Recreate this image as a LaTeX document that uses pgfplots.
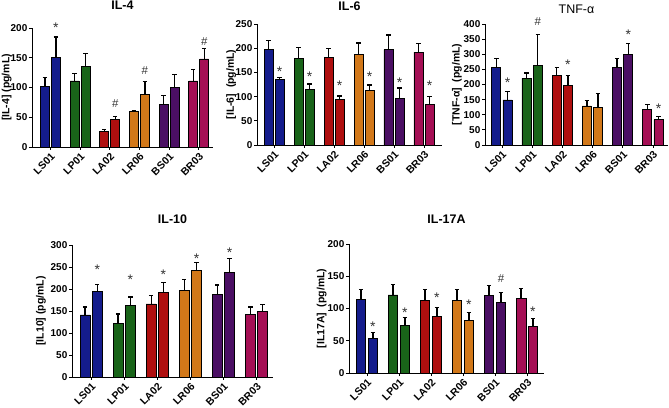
\documentclass[border=0pt]{standalone}
\usepackage{pgfplots}
\pgfplotsset{compat=1.18}
\usepackage{fontspec}
\setmainfont{Liberation Sans}
\definecolor{cLS}{RGB}{20,28,140}
\definecolor{cLP}{RGB}{25,100,25}
\definecolor{cLA}{RGB}{175,15,15}
\definecolor{cLR}{RGB}{210,120,25}
\definecolor{cBS}{RGB}{75,15,100}
\definecolor{cBR}{RGB}{165,15,85}
\newcommand{\hs}{{\fontsize{11.5}{12}\selectfont\#}}
\pgfplotsset{
  panel/.style={
    scale only axis, axis lines*=left, enlargelimits=false, clip=false,
    ymin=0, xtick={0,1,2,3,4,5},
    xticklabels={LS01,LP01,LA02,LR06,BS01,BR03},
    tick align=outside, major tick length=3bp,
    xtick pos=bottom, ytick pos=left,
    tick style={black, line width=0.8pt},
    axis line style={black, line width=0.9pt},
    /pgf/number format/assume math mode=true,
    y tick label style={font=\bfseries\fontsize{10}{11}\selectfont, inner sep=1.5pt},
    x tick label style={font=\bfseries\fontsize{10.5}{11}\selectfont, rotate=45, anchor=north east, inner sep=1.5pt},
    ylabel style={font=\bfseries\fontsize{10.5}{11}\selectfont, rotate=0, anchor=center},
    title style={font=\bfseries\fontsize{12.5}{13}\selectfont, anchor=center},
  },
  grp/.style={ybar, bar width=0.3, bar shift=0pt, draw=black, line width=0.8pt, fill=#1,
    error bars/.cd, y dir=plus, y explicit,
    error bar style={line width=1.3pt, black},
    error mark options={rotate=90, mark size=2.2pt, line width=1.3pt, black}},
  sig/.style={only marks, mark=none, nodes near coords, point meta=explicit symbolic,
    nodes near coords align={center},
    every node near coord/.append style={font=\fontsize{14}{14}\selectfont, text=black!80, inner sep=0pt}},
}
\begin{document}
\begin{tikzpicture}
\path[use as bounding box] (0,0) rectangle (669bp,408bp);
% ---------------- IL-4
\begin{axis}[panel, at={(32bp,261bp)}, anchor=south west, width=181bp, height=119bp,
  xmin=-0.62, xmax=5.48, ymax=200, ytick={0,50,100,150,200},
  title={IL-4}, title style={at={(axis description cs:0.5,1.143)}},
  ylabel={[IL-4] (pg/mL)}, ylabel style={at={(axis description cs:-0.14,0.5)}}]
\addplot[grp=cLS] coordinates {(-0.185,102) +- (0,15) (0.185,150) +- (0,35)};
\addplot[grp=cLP] coordinates {(0.815,111) +- (0,12) (1.185,135) +- (0,22)};
\addplot[grp=cLA] coordinates {(1.815,26) +- (0,3) (2.185,46) +- (0,5)};
\addplot[grp=cLR] coordinates {(2.815,60) +- (0,1) (3.185,88) +- (0,22)};
\addplot[grp=cBS] coordinates {(3.815,71) +- (0,16) (4.185,100) +- (0,22)};
\addplot[grp=cBR] coordinates {(4.815,111) +- (0,19) (5.185,148) +- (0,18)};
\addplot[sig] coordinates {(0.185,200) [*] (2.185,73) [\hs] (3.185,129) [\hs] (5.185,177) [\hs]};
\end{axis}
% ---------------- IL-6
\begin{axis}[panel, at={(257bp,263bp)}, anchor=south west, width=185bp, height=121bp,
  xmin=-0.57, xmax=5.6, ymax=250, ytick={0,50,100,150,200,250},
  title={IL-6}, title style={at={(axis description cs:0.5,1.095)}},
  ylabel={[IL-6]\ \ (pg/mL)}, ylabel style={at={(axis description cs:-0.14,0.5)}}]
\addplot[grp=cLS] coordinates {(-0.185,198) +- (0,18) (0.185,136) +- (0,4)};
\addplot[grp=cLP] coordinates {(0.815,178) +- (0,24) (1.185,115) +- (0,11)};
\addplot[grp=cLA] coordinates {(1.815,181) +- (0,18) (2.185,95) +- (0,6)};
\addplot[grp=cLR] coordinates {(2.815,188) +- (0,23) (3.185,112) +- (0,12)};
\addplot[grp=cBS] coordinates {(3.815,197) +- (0,30) (4.185,96) +- (0,22)};
\addplot[grp=cBR] coordinates {(4.815,192) +- (0,17) (5.185,83) +- (0,17)};
\addplot[sig] coordinates {(0.185,152) [*] (1.185,141) [*] (2.185,123) [*] (3.185,141) [*] (4.185,128) [*] (5.185,123) [*]};
\end{axis}
% ---------------- TNF-alpha
\begin{axis}[panel, at={(485bp,263bp)}, anchor=south west, width=183bp, height=121bp,
  xmin=-0.56, xmax=5.5, ymax=400, ytick={0,50,100,150,200,250,300,350,400},
  title={\mdseries TNF-α}, title style={at={(axis description cs:0.5,1.074)}},
  ylabel={[TNF-α]\ \ (pg/mL)}, ylabel style={at={(axis description cs:-0.153,0.5)}}]
\addplot[grp=cLS] coordinates {(-0.185,257) +- (0,28) (0.185,149) +- (0,27)};
\addplot[grp=cLP] coordinates {(0.815,220) +- (0,18) (1.185,264) +- (0,102)};
\addplot[grp=cLA] coordinates {(1.815,229) +- (0,27) (2.185,196) +- (0,33)};
\addplot[grp=cLR] coordinates {(2.815,129) +- (0,18) (3.185,123) +- (0,48)};
\addplot[grp=cBS] coordinates {(3.815,257) +- (0,28) (4.185,298) +- (0,38)};
\addplot[grp=cBR] coordinates {(4.815,118) +- (0,16) (5.185,83) +- (0,12)};
\addplot[sig] coordinates {(0.185,206) [*] (1.185,407) [\hs] (2.185,266) [*] (4.185,363) [*] (5.185,120) [*]};
\end{axis}
% ---------------- IL-10
\begin{axis}[panel, at={(72bp,31bp)}, anchor=south west, width=201bp, height=132bp,
  xmin=-0.58, xmax=5.5, ymax=300, ytick={0,50,100,150,200,250,300},
  title={IL-10}, title style={at={(axis description cs:0.5,1.152)}},
  ylabel={[IL10] (pg/mL)}, ylabel style={at={(axis description cs:-0.155,0.5)}}]
\addplot[grp=cLS] coordinates {(-0.185,141) +- (0,18) (0.185,194) +- (0,17)};
\addplot[grp=cLP] coordinates {(0.815,122) +- (0,21) (1.185,162) +- (0,20)};
\addplot[grp=cLA] coordinates {(1.815,166) +- (0,20) (2.185,192) +- (0,23)};
\addplot[grp=cLR] coordinates {(2.815,197) +- (0,24) (3.185,242) +- (0,18)};
\addplot[grp=cBS] coordinates {(3.815,187) +- (0,22) (4.185,237) +- (0,33)};
\addplot[grp=cBR] coordinates {(4.815,142) +- (0,17) (5.185,148) +- (0,17)};
\addplot[sig] coordinates {(0.185,245) [*] (1.185,221) [*] (2.185,233) [*] (3.185,270) [*] (4.185,283) [*]};
\end{axis}
% ---------------- IL-17A
\begin{axis}[panel, at={(349bp,35bp)}, anchor=south west, width=195bp, height=129bp,
  xmin=-0.56, xmax=5.53, ymax=200, ytick={0,50,100,150,200},
  title={IL-17A}, title style={at={(axis description cs:0.5,1.147)}},
  ylabel={[IL17A]\ \ (pg/mL)}, ylabel style={at={(axis description cs:-0.14,0.5)}}]
\addplot[grp=cLS] coordinates {(-0.185,114) +- (0,16) (0.185,53) +- (0,10)};
\addplot[grp=cLP] coordinates {(0.815,121) +- (0,16) (1.185,74) +- (0,12)};
\addplot[grp=cLA] coordinates {(1.815,113) +- (0,16) (2.185,88) +- (0,14)};
\addplot[grp=cLR] coordinates {(2.815,113) +- (0,16) (3.185,81) +- (0,13)};
\addplot[grp=cBS] coordinates {(3.815,120) +- (0,16) (4.185,110) +- (0,15)};
\addplot[grp=cBR] coordinates {(4.815,116) +- (0,15) (5.185,72) +- (0,12)};
\addplot[sig] coordinates {(0.185,72) [*] (1.185,94) [*] (2.185,116) [*] (3.185,106) [*] (4.185,146) [\hs] (5.185,95) [*]};
\end{axis}
\end{tikzpicture}
\end{document}
